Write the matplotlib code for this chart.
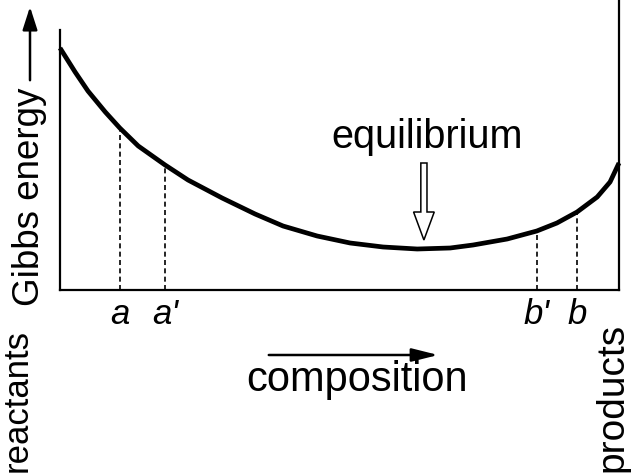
import matplotlib.pyplot as plt
import numpy as np
from matplotlib.patches import FancyArrow

plt.rcParams['font.family'] = ['Liberation Sans', 'DejaVu Sans']

# Gibbs energy curve (composition 0..1, G in arbitrary units)
comp = [0.0, 0.027, 0.050, 0.081, 0.107, 0.140, 0.188, 0.229, 0.290, 0.349, 0.399, 0.460,
        0.519, 0.578, 0.639, 0.698, 0.739, 0.800, 0.853, 0.889, 0.925, 0.961, 0.984, 1.0]
gibbs = [242, 218, 199, 178, 162, 144, 125, 110, 92, 76, 64, 54,
         47, 43, 41, 42, 45, 51, 59, 67, 78, 93, 108, 127]

# marked compositions
mark_labels = ["a", "a'", "b'", "b"]
mark_pos = [0.107, 0.188, 0.853, 0.925]

eq_pos = 0.651

fig = plt.figure(figsize=(6.31, 4.76), dpi=100)
ax = fig.add_axes([60 / 631, (476 - 290) / 476, 559 / 631, 290 / 476])
ax.set_xlim(0, 1)
ax.set_ylim(0, 290)

ax.plot(comp, gibbs, color='black', lw=3.4, solid_capstyle='butt',
        solid_joinstyle='round', clip_on=False)

for p in mark_pos:
    h = np.interp(p, comp, gibbs)
    ax.plot([p, p], [0, h], color='black', lw=1.2, ls=(0, (3, 2)))

ax.spines['top'].set_visible(False)
for s in ['left', 'bottom', 'right']:
    ax.spines[s].set_linewidth(1.6)
ax.spines['left'].set_bounds(0, 260)
ax.set_xticks([])
ax.set_yticks([])

# hollow arrow pointing to the minimum
ax.add_patch(FancyArrow(eq_pos, 127, 0, -77, width=0.011, head_width=0.037,
                        head_length=28, length_includes_head=True,
                        facecolor='white', edgecolor='black', lw=1.1))
ax.text(eq_pos + 0.006, 134, "equilibrium", ha='center', va='bottom', fontsize=28.5)

# overlay in pixel units for the outer labels
ov = fig.add_axes([0, 0, 1, 1])
ov.set_xlim(0, 631)
ov.set_ylim(476, 0)
ov.axis('off')
ov.patch.set_alpha(0)

for lab, p in zip(mark_labels, mark_pos):
    ov.text(60 + p * 559, 314, lab, ha='center', va='center', fontsize=25, style='italic')

ov.text(30, 197, "Gibbs energy", rotation=90, ha='center', va='center', fontsize=26.5)
ov.annotate("", xy=(30, 4), xytext=(30, 83),
            arrowprops=dict(arrowstyle='-|>,head_length=1.4,head_width=0.45', color='black', lw=1.8))

ov.text(357, 380, "composition", ha='center', va='center', fontsize=30)
ov.annotate("", xy=(441, 355), xytext=(266, 355),
            arrowprops=dict(arrowstyle='-|>,head_length=1.6,head_width=0.4', color='black', lw=1.8))

ov.text(17, 400, "reactants", rotation=90, ha='center', va='center', fontsize=25)
ov.text(612, 397, "products", rotation=90, ha='center', va='center', fontsize=28)

fig.savefig("out.png", dpi=100)
